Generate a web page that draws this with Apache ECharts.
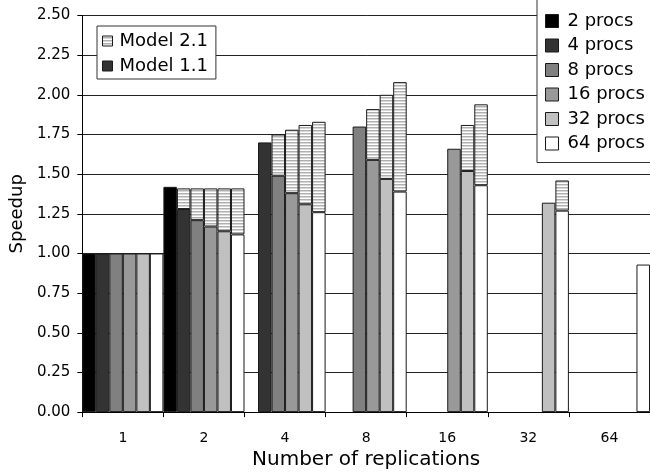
<!DOCTYPE html>
<html>
<head>
<meta charset="utf-8">
<script src="https://cdn.jsdelivr.net/npm/echarts@6/dist/echarts.min.js"></script>
<style>
  html, body { margin: 0; padding: 0; background: #fff; }
  #chart { width: 650px; height: 475px; }
</style>
</head>
<body>
<div id="chart"></div>
<script>
// Number of replications (x categories)
const replications = ['1', '2', '4', '8', '16', '32', '64'];
// Processor counts, one bar per count inside each group
const procLabels = ['2 procs', '4 procs', '8 procs', '16 procs', '32 procs', '64 procs'];
const procColors = ['#000000', '#333333', '#808080', '#999999', '#c0c0c0', '#ffffff'];

// Speedup with Model 1.1 (solid part of each bar)
const model11_p2  = [1.00, 1.42, null, null, null, null, null];
const model11_p4  = [1.00, 1.28, 1.70, null, null, null, null];
const model11_p8  = [1.00, 1.21, 1.49, 1.80, null, null, null];
const model11_p16 = [1.00, 1.17, 1.38, 1.59, 1.66, null, null];
const model11_p32 = [1.00, 1.14, 1.31, 1.47, 1.52, 1.32, null];
const model11_p64 = [1.00, 1.12, 1.26, 1.39, 1.43, 1.27, 0.93];

// Speedup with Model 2.1 (top of the hatched part), null where not shown
const model21_p2  = [null, null, null, null, null, null, null];
const model21_p4  = [null, 1.41, null, null, null, null, null];
const model21_p8  = [null, 1.41, 1.75, null, null, null, null];
const model21_p16 = [null, 1.41, 1.78, 1.91, null, null, null];
const model21_p32 = [null, 1.41, 1.81, 2.00, 1.81, null, null];
const model21_p64 = [null, 1.41, 1.83, 2.08, 1.94, 1.46, null];

// Y axis ticks
const yMin = 0, yMax = 2.5, yStep = 0.25;

const model11 = [model11_p2, model11_p4, model11_p8, model11_p16, model11_p32, model11_p64];
const model21 = [model21_p2, model21_p4, model21_p8, model21_p16, model21_p32, model21_p64];

// Horizontal stripe fill used for the Model 2.1 part
function stripePattern() {
  const c = document.createElement('canvas');
  c.width = 4; c.height = 3;
  const ctx = c.getContext('2d');
  ctx.fillStyle = '#ffffff'; ctx.fillRect(0, 0, 4, 1);
  ctx.fillStyle = '#b0b0b0'; ctx.fillRect(0, 1, 4, 1);
  ctx.fillStyle = '#d8d8d8'; ctx.fillRect(0, 2, 4, 1);
  return { image: c, repeat: 'repeat' };
}
const stripes = stripePattern();

const FONT = 'DejaVu Sans';
const barBorder = { borderColor: '#1a1a1a', borderWidth: 1 };

const series = [];
procLabels.forEach((name, i) => {
  series.push({
    name: name,
    type: 'bar',
    stack: 'p' + i,
    barGap: '0%',
    barCategoryGap: '0%',
    data: model11[i],
    itemStyle: Object.assign({ color: procColors[i] }, barBorder),
    emphasis: { disabled: true }
  });
});
procLabels.forEach((name, i) => {
  series.push({
    name: 'Model 2.1',
    type: 'bar',
    stack: 'p' + i,
    barGap: '0%',
    barCategoryGap: '0%',
    data: model21[i].map((v, k) => (v == null || model11[i][k] == null) ? null : +(v - model11[i][k]).toFixed(2)),
    itemStyle: Object.assign({ color: stripes }, barBorder),
    emphasis: { disabled: true }
  });
});
// Legend entry for the solid part; shares the 4-procs stack so it adds no slot
series.push({
  name: 'Model 1.1',
  type: 'bar',
  stack: 'p1',
  barGap: '0%',
  barCategoryGap: '0%',
  data: [],
  itemStyle: Object.assign({ color: '#333333' }, barBorder)
});

const chart = echarts.init(document.getElementById('chart'), null, { renderer: 'canvas' });
chart.setOption({
  animation: false,
  backgroundColor: '#ffffff',
  textStyle: { fontFamily: FONT, color: '#000' },
  grid: { left: 77, top: 15.5, width: 579.5, height: 402, containLabel: false },
  legend: [
    {
      data: ['Model 2.1', 'Model 1.1'],
      orient: 'vertical',
      left: 97, top: 26,
      padding: [5, 8, 3, 5],
      itemGap: 5,
      itemWidth: 10, itemHeight: 10,
      icon: 'rect',
      backgroundColor: '#fff',
      borderColor: '#333', borderWidth: 1,
      itemStyle: { borderColor: '#1a1a1a', borderWidth: 1 },
      textStyle: { fontFamily: FONT, fontSize: 18, color: '#000', lineHeight: 20, padding: [0, 0, 0, 2] },
      selectedMode: false
    },
    {
      data: procLabels,
      orient: 'vertical',
      left: 537, top: -1,
      padding: [12, 14, 9, 8],
      itemGap: 4.5,
      itemWidth: 13, itemHeight: 13,
      icon: 'rect',
      backgroundColor: '#fff',
      borderColor: '#333', borderWidth: 1,
      itemStyle: { borderColor: '#1a1a1a', borderWidth: 1 },
      textStyle: { fontFamily: FONT, fontSize: 18, color: '#000', lineHeight: 20, padding: [0, 0, 0, 4] },
      selectedMode: false
    }
  ],
  xAxis: {
    type: 'category',
    data: replications,
    name: 'Number of replications',
    nameLocation: 'middle',
    nameGap: 33,
    nameTextStyle: { fontFamily: FONT, fontSize: 20, color: '#000' },
    axisLine: { show: true, lineStyle: { color: '#000', width: 1 } },
    axisTick: { show: true, length: 5, lineStyle: { color: '#000' } },
    axisLabel: { fontFamily: FONT, fontSize: 14, color: '#000', margin: 19 },
    splitLine: { show: false }
  },
  yAxis: {
    type: 'value',
    min: yMin, max: yMax, interval: yStep,
    name: 'Speedup',
    nameLocation: 'middle',
    nameRotate: 90,
    nameGap: 45,
    nameTextStyle: { fontFamily: FONT, fontSize: 18, color: '#000' },
    axisLine: { show: true, lineStyle: { color: '#000', width: 1 } },
    axisTick: { show: true, length: 5, lineStyle: { color: '#000' } },
    axisLabel: { fontFamily: FONT, fontSize: 15, color: '#000', margin: 12, formatter: v => v.toFixed(2) },
    splitLine: { show: true, lineStyle: { color: '#222', width: 1 } }
  },
  series: series
});
</script>
</body>
</html>
